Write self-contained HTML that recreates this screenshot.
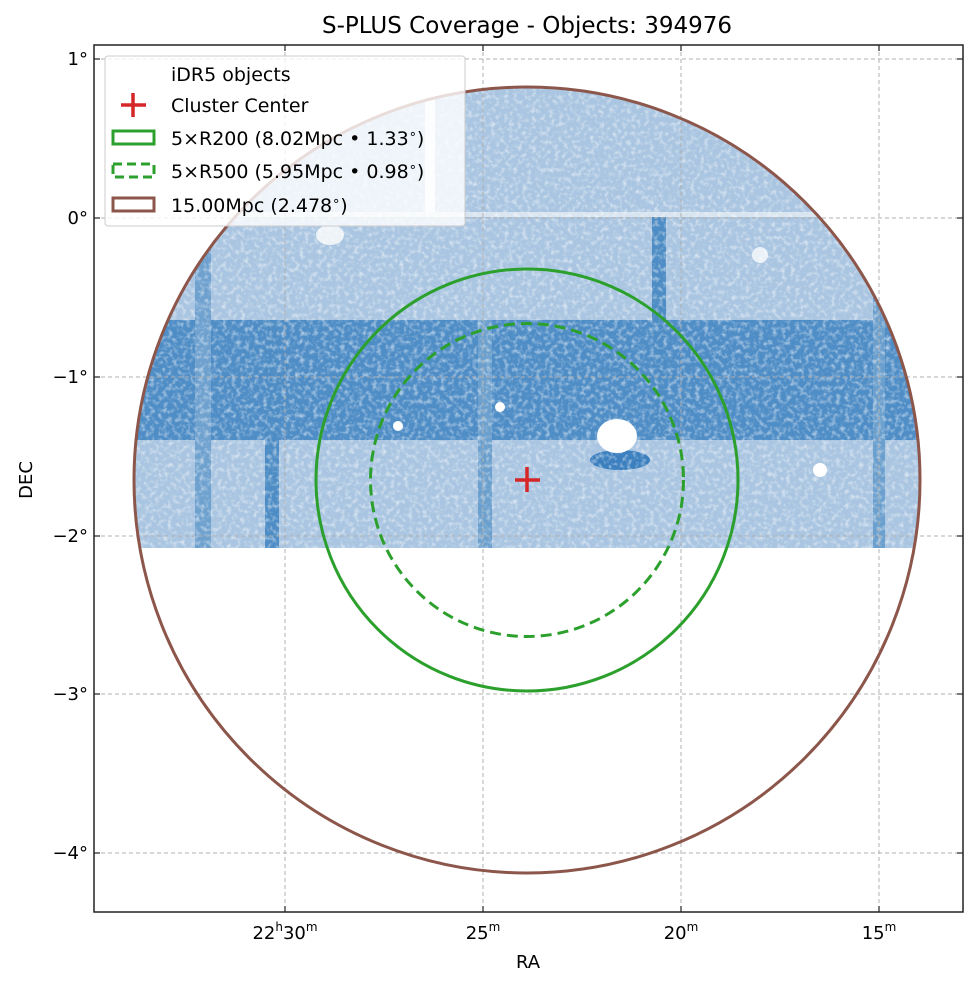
<!DOCTYPE html>
<html><head><meta charset="utf-8"><style>
body{margin:0;background:#fff;}
svg text{font-family:"DejaVu Sans","Liberation Sans",sans-serif;fill:#000;}
</style></head><body>
<svg width="975" height="986" viewBox="0 0 975 986" xmlns="http://www.w3.org/2000/svg">
<defs>
<clipPath id="c"><circle cx="527" cy="480" r="393"/></clipPath>
<filter id="n" x="0" y="0" width="100%" height="100%">
<feTurbulence type="fractalNoise" baseFrequency="0.22" numOctaves="2" seed="3"/>
<feColorMatrix values="0 0 0 0 1  0 0 0 0 1  0 0 0 0 1  0 0 0 2.2 -1.0"/>
</filter>
</defs>
<text x="527" y="33" font-size="23" text-anchor="middle">S-PLUS Coverage - Objects: 394976</text>
<g clip-path="url(#c)">
<rect x="130" y="80" width="800" height="468" fill="#a9c5e1"/>
<rect x="130" y="320" width="800" height="120" fill="#4f8dc6"/>
<rect x="195" y="200" width="16" height="348" fill="#6fa1cf"/>
<rect x="265" y="320" width="14" height="228" fill="#4d8cc4"/>
<rect x="478" y="320" width="14" height="228" fill="#6b9fcd"/>
<rect x="652" y="215" width="14" height="225" fill="#4d8cc4"/>
<rect x="873" y="280" width="12" height="268" fill="#6b9fcd"/>
<rect x="425" y="80" width="10" height="135" fill="#eef3f8"/>
<rect x="130" y="212" width="800" height="5" fill="#d8e4ef"/>
<ellipse cx="620" cy="460" rx="30" ry="10" fill="#3b7fbf"/>
<ellipse cx="617" cy="436" rx="20" ry="17" fill="#fff"/>
<circle cx="820" cy="470" r="7" fill="#fff"/>
<circle cx="500" cy="407" r="5" fill="#fff"/>
<circle cx="398" cy="426" r="5" fill="#fff"/>
<circle cx="760" cy="255" r="8" fill="#eaf1f8"/>
<ellipse cx="330" cy="235" rx="14" ry="10" fill="#eef3f8"/>
<rect x="130" y="80" width="800" height="468" filter="url(#n)" opacity="0.6"/>
</g>
<g stroke="#b0b0b0" stroke-width="1" stroke-dasharray="4,3">
<line x1="94" y1="59" x2="963" y2="59"/><line x1="94" y1="218" x2="963" y2="218"/>
<line x1="94" y1="377" x2="963" y2="377"/><line x1="94" y1="536" x2="963" y2="536"/>
<line x1="94" y1="694" x2="963" y2="694"/><line x1="94" y1="853" x2="963" y2="853"/>
<line x1="285" y1="45" x2="285" y2="912"/><line x1="483" y1="45" x2="483" y2="912"/>
<line x1="681" y1="45" x2="681" y2="912"/><line x1="879" y1="45" x2="879" y2="912"/>
</g>
<circle cx="527" cy="480" r="393" fill="none" stroke="#8c564b" stroke-width="3"/>
<circle cx="527" cy="480" r="211" fill="none" stroke="#2ca02c" stroke-width="3"/>
<circle cx="527" cy="480" r="156.5" fill="none" stroke="#2ca02c" stroke-width="3" stroke-dasharray="11,6"/>
<g stroke="#d62728" stroke-width="3.5"><line x1="515" y1="480" x2="540" y2="480"/><line x1="527" y1="467" x2="527" y2="492"/></g>
<rect x="94" y="45" width="869" height="867" fill="none" stroke="#222" stroke-width="1.5"/>
<g stroke="#222" stroke-width="1.2">
<line x1="94" y1="59" x2="100" y2="59"/><line x1="94" y1="218" x2="100" y2="218"/><line x1="94" y1="377" x2="100" y2="377"/><line x1="94" y1="536" x2="100" y2="536"/><line x1="94" y1="694" x2="100" y2="694"/><line x1="94" y1="853" x2="100" y2="853"/>
<line x1="963" y1="59" x2="957" y2="59"/><line x1="963" y1="218" x2="957" y2="218"/><line x1="963" y1="377" x2="957" y2="377"/><line x1="963" y1="536" x2="957" y2="536"/><line x1="963" y1="694" x2="957" y2="694"/><line x1="963" y1="853" x2="957" y2="853"/>
<line x1="285" y1="912" x2="285" y2="906"/><line x1="483" y1="912" x2="483" y2="906"/><line x1="681" y1="912" x2="681" y2="906"/><line x1="879" y1="912" x2="879" y2="906"/>
<line x1="285" y1="45" x2="285" y2="51"/><line x1="483" y1="45" x2="483" y2="51"/><line x1="681" y1="45" x2="681" y2="51"/><line x1="879" y1="45" x2="879" y2="51"/>
</g>
<g font-size="18" text-anchor="end">
<text x="88" y="65">1°</text><text x="88" y="224">0°</text><text x="88" y="383">−1°</text><text x="88" y="542">−2°</text><text x="88" y="700">−3°</text><text x="88" y="859">−4°</text>
</g>
<g font-size="18" text-anchor="middle">
<text x="285" y="939">22<tspan font-size="12" dy="-8">h</tspan><tspan dy="8">30</tspan><tspan font-size="12" dy="-8">m</tspan></text>
<text x="483" y="939">25<tspan font-size="12" dy="-8">m</tspan></text>
<text x="681" y="939">20<tspan font-size="12" dy="-8">m</tspan></text>
<text x="879" y="939">15<tspan font-size="12" dy="-8">m</tspan></text>
<text x="528" y="968">RA</text>
<text transform="translate(32,480) rotate(-90)">DEC</text>
</g>
<rect x="105" y="56" width="360" height="170" rx="3" fill="#fff" fill-opacity="0.8" stroke="#ccc"/>
<g font-size="19">
<text x="171" y="81">iDR5 objects</text>
<text x="171" y="112">Cluster Center</text>
<text x="171" y="145">5×R200 (8.02Mpc • 1.33<tspan font-size="13" dy="-7">∘</tspan><tspan dy="7">)</tspan></text>
<text x="171" y="178">5×R500 (5.95Mpc • 0.98<tspan font-size="13" dy="-7">∘</tspan><tspan dy="7">)</tspan></text>
<text x="171" y="212">15.00Mpc (2.478<tspan font-size="13" dy="-7">∘</tspan><tspan dy="7">)</tspan></text>
</g>
<g stroke="#d62728" stroke-width="3.5"><line x1="121" y1="105" x2="146" y2="105"/><line x1="133" y1="93" x2="133" y2="117"/></g>
<rect x="113" y="131" width="41" height="13" fill="none" stroke="#2ca02c" stroke-width="3"/>
<rect x="113" y="164" width="41" height="13" fill="none" stroke="#2ca02c" stroke-width="3" stroke-dasharray="9,5"/>
<rect x="113" y="198" width="41" height="13" fill="none" stroke="#8c564b" stroke-width="3"/>
</svg>
</body></html>
